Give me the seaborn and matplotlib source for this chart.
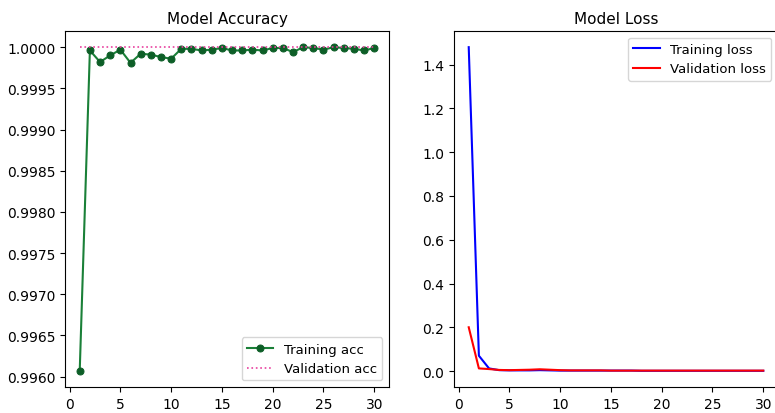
import numpy as np
import pandas as pd
import matplotlib
matplotlib.use("Agg")
import matplotlib.pyplot as plt
import seaborn as sns

# training history
epochs = list(range(1, 31))
train_acc = [0.99607, 0.99996, 0.99982, 0.99990, 0.99997, 0.99981, 0.99992, 0.99991, 0.99988, 0.99986,
             0.99998, 0.99998, 0.99996, 0.99997, 0.99999, 0.99996, 0.99996, 0.99997, 0.99996, 0.99999,
             0.99999, 0.99994, 1.00000, 0.99999, 0.99997, 1.00000, 0.99999, 0.99998, 0.99996, 0.99999]
val_acc = [1.0] * 30
train_loss = [1.48, 0.07, 0.012, 0.004, 0.003, 0.003, 0.003, 0.004, 0.003, 0.002,
              0.002, 0.002, 0.002, 0.002, 0.002, 0.002, 0.002, 0.001, 0.001, 0.001,
              0.001, 0.001, 0.001, 0.001, 0.001, 0.001, 0.001, 0.001, 0.001, 0.001]
val_loss = [0.20, 0.012, 0.009, 0.005, 0.004, 0.005, 0.006, 0.008, 0.006, 0.004,
            0.003, 0.003, 0.003, 0.003, 0.002, 0.002, 0.002, 0.002, 0.002, 0.002,
            0.002, 0.002, 0.002, 0.002, 0.002, 0.002, 0.002, 0.002, 0.002, 0.002]

df = pd.DataFrame({'epoch': epochs, 'train_acc': train_acc, 'val_acc': val_acc,
                   'train_loss': train_loss, 'val_loss': val_loss})

plt.rcParams['font.size'] = 10
fig = plt.figure(figsize=(7.75, 4.14), dpi=100)
ax1 = fig.add_axes([65 / 775, 1 - 388 / 414, 324 / 775, 356 / 414])
ax2 = fig.add_axes([454 / 775, 1 - 388 / 414, 324 / 775, 356 / 414])

# accuracy
sns.lineplot(data=df, x='epoch', y='train_acc', ax=ax1, color='#1a8038', marker='o',
             markersize=5, markerfacecolor='#0d5e27', markeredgecolor='#0d5e27',
             label='Training acc')
sns.lineplot(data=df, x='epoch', y='val_acc', ax=ax1, color='#e8409e', linestyle=':',
             linewidth=1.2, label='Validation acc')
ax1.set_title('Model Accuracy', fontsize=11)
ax1.set_xlabel('')
ax1.set_ylabel('')
ax1.set_xticks([0, 5, 10, 15, 20, 25, 30])
ax1.yaxis.set_major_formatter(matplotlib.ticker.FormatStrFormatter('%.4f'))
ax1.legend(loc='lower right', fontsize=9.5)

# loss
sns.lineplot(data=df, x='epoch', y='train_loss', ax=ax2, color='blue', label='Training loss')
sns.lineplot(data=df, x='epoch', y='val_loss', ax=ax2, color='red', label='Validation loss')
ax2.set_title('Model Loss', fontsize=11)
ax2.set_xlabel('')
ax2.set_ylabel('')
ax2.set_xticks([0, 5, 10, 15, 20, 25, 30])
ax2.legend(loc='upper right', fontsize=9.5)

fig.savefig('out.png', dpi=100)
